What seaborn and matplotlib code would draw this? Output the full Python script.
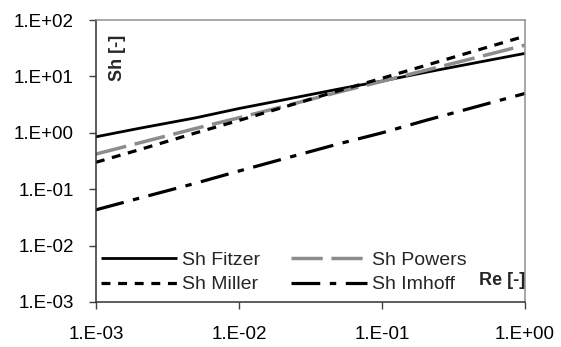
import matplotlib
matplotlib.use("Agg")
import matplotlib.pyplot as plt
import seaborn as sns
import pandas as pd
from matplotlib.ticker import FixedLocator, NullLocator

# Reynolds number grid and Sherwood correlations
re_values = [0.001, 0.002, 0.005, 0.01, 0.02, 0.05, 0.1, 0.2, 0.5, 1.0]
sh_fitzer = [0.85, 1.2, 1.85, 2.7, 3.8, 6.0, 8.3, 11.8, 18.4, 25.7]
sh_powers = [0.42, 0.66, 1.2, 1.85, 2.9, 5.3, 8.2, 12.8, 23.0, 36.0]
sh_miller = [0.30, 0.50, 1.0, 1.66, 2.8, 5.6, 9.3, 15.6, 31.0, 52.0]
sh_imhoff = [0.043, 0.069, 0.128, 0.21, 0.34, 0.64, 1.0, 1.65, 3.1, 5.0]

series_names = ["Sh Fitzer", "Sh Powers", "Sh Miller", "Sh Imhoff"]
x_ticks = [1e-3, 1e-2, 1e-1, 1e0]
x_tick_labels = ["1.E-03", "1.E-02", "1.E-01", "1.E+00"]
y_ticks = [1e-3, 1e-2, 1e-1, 1e0, 1e1, 1e2]
y_tick_labels = ["1.E-03", "1.E-02", "1.E-01", "1.E+00", "1.E+01", "1.E+02"]

sns.set_style("white")
plt.rcParams["font.family"] = ["Liberation Sans", "DejaVu Sans"]

fig = plt.figure(figsize=(5.61, 3.47), dpi=100)
ax = fig.add_axes([0.171, 0.130, 0.765, 0.812])

df = pd.DataFrame({
    "Re": re_values * 4,
    "Sh": sh_fitzer + sh_powers + sh_miller + sh_imhoff,
    "series": sum([[n] * len(re_values) for n in series_names], []),
})

styles = {
    "Sh Fitzer": dict(color="black", lw=2.0, dashes=None),
    "Sh Powers": dict(color="#8c8c8c", lw=2.5, dashes=(9, 2.5)),
    "Sh Miller": dict(color="black", lw=2.3, dashes=(2.8, 2.4)),
    "Sh Imhoff": dict(color="black", lw=2.3, dashes=(9, 3, 2, 3)),
}

handles = {}
for name in series_names:
    st = styles[name]
    sub = df[df["series"] == name]
    sns.lineplot(data=sub, x="Re", y="Sh", ax=ax, color=st["color"],
                 linewidth=st["lw"], label=name, legend=False)
    line = ax.get_lines()[-1]
    if st["dashes"] is not None:
        line.set_dashes(st["dashes"])
    line.set_solid_capstyle("butt")
    line.set_dash_capstyle("butt")
    handles[name] = line

ax.set_xscale("log")
ax.set_yscale("log")
ax.set_xlim(1e-3, 1e0)
ax.set_ylim(1e-3, 1e2)
ax.xaxis.set_major_locator(FixedLocator(x_ticks))
ax.yaxis.set_major_locator(FixedLocator(y_ticks))
ax.xaxis.set_minor_locator(NullLocator())
ax.yaxis.set_minor_locator(NullLocator())
ax.set_xticklabels(x_tick_labels)
ax.set_yticklabels(y_tick_labels)
ax.tick_params(axis="both", which="major", direction="out", length=5,
               width=1.0, color="#404040", labelsize=13.5, labelcolor="black",
               bottom=True, left=True)
ax.tick_params(axis="x", pad=12)
ax.tick_params(axis="y", pad=11)
ax.set_xlabel("")
ax.set_ylabel("")

for side in ["left", "bottom"]:
    ax.spines[side].set_color("#303030")
    ax.spines[side].set_linewidth(1.1)
for side in ["top", "right"]:
    ax.spines[side].set_color("#909090")
    ax.spines[side].set_linewidth(1.1)

ax.text(0.05, 0.865, "Sh [-]", transform=ax.transAxes, rotation=90,
        ha="center", va="center", fontsize=13, fontweight="bold")
ax.text(1.0, 0.075, "Re [-]", transform=ax.transAxes, ha="right",
        va="center", fontsize=13, fontweight="bold")

order = ["Sh Fitzer", "Sh Miller", "Sh Powers", "Sh Imhoff"]
leg = ax.legend([handles[n] for n in order], order, ncol=2, loc="lower left",
                bbox_to_anchor=(0.012, 0.03), frameon=False, fontsize=14,
                handlelength=3.9, handletextpad=0.25, columnspacing=1.6,
                labelspacing=0.35, borderpad=0, borderaxespad=0)

fig.savefig("out.png", dpi=100)
